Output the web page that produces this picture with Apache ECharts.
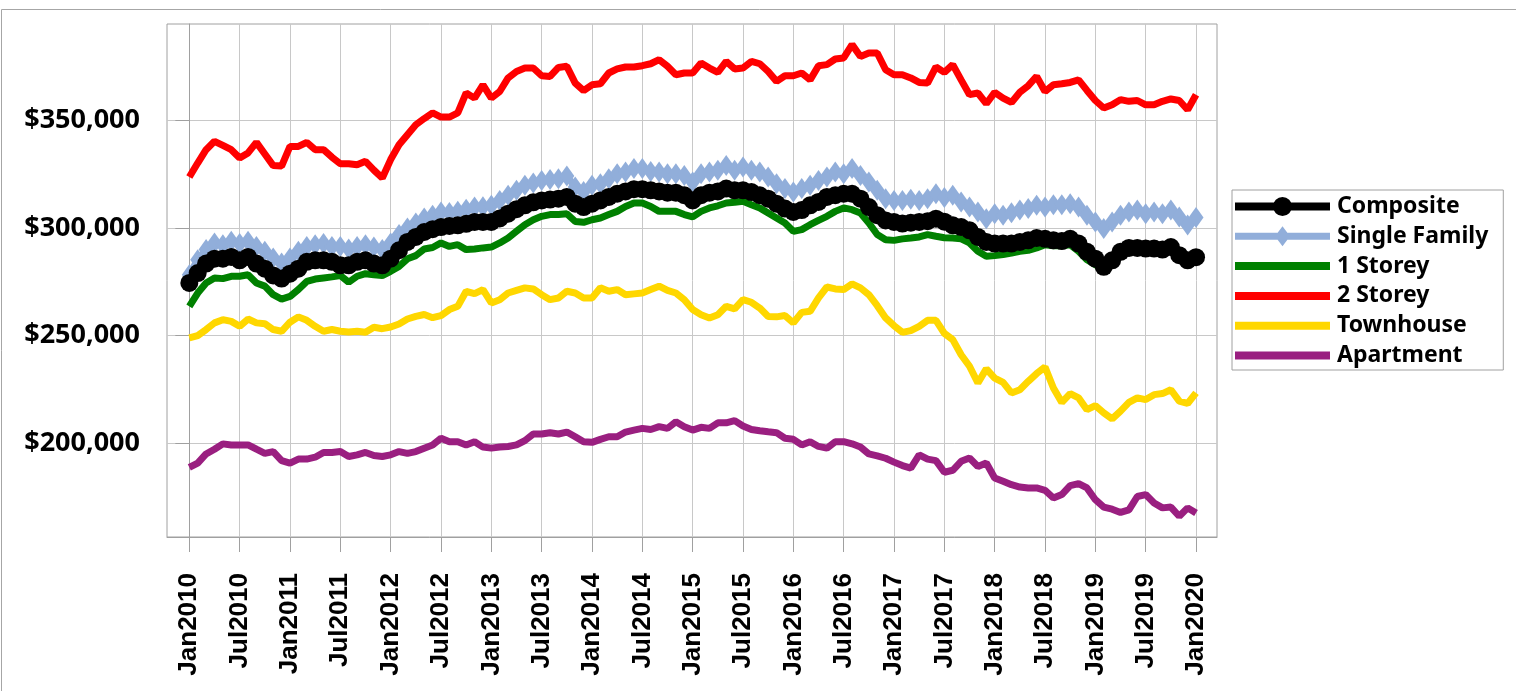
<!DOCTYPE html>
<html><head><meta charset="utf-8">
<script src="https://cdn.jsdelivr.net/npm/echarts@6/dist/echarts.min.js"></script>
<style>html,body{margin:0;padding:0;background:#fff}#c{width:1516px;height:691px}</style>
</head><body><div id="c"></div>
<script>
// X tick labels (every 6 months, Jan2010..Jan2020)
const tickLabels = ['Jan2010','Jul2010','Jan2011','Jul2011','Jan2012','Jul2012','Jan2013','Jul2013','Jan2014','Jul2014',
  'Jan2015','Jul2015','Jan2016','Jul2016','Jan2017','Jul2017','Jan2018','Jul2018','Jan2019','Jul2019','Jan2020'];
const yTicks = [200000, 250000, 300000, 350000];
const seriesNames = ['Composite','Single Family','1 Storey','2 Storey','Townhouse','Apartment'];

// Monthly values Jan2010 .. Jan2020 (one row per year)
const composite = [
  274500,279100,283500,285800,285800,286600,285000,286600,283500,281100,278000,276500,
  278800,281100,284300,285000,285000,284300,282700,282700,284300,285000,283500,282700,
  285800,289700,293600,295900,298200,299500,300500,301000,301300,302000,302900,302900,
  302900,304500,306700,308800,310600,312000,312900,313300,313700,314500,311400,309800,
  311400,312900,314500,316000,317100,318100,318100,317600,317100,316500,316500,315300,
  312900,315300,316500,317100,318400,317600,317600,316800,315300,313700,311400,309100,
  307500,308400,310600,312200,314500,315300,316000,316000,313700,309800,306000,303600,
  302900,302100,302500,302900,303200,304400,303000,301300,300500,299000,295900,293600,
  292800,292800,292800,293600,294300,295400,295000,294300,294000,295000,292800,289000,
  285800,282000,285000,289000,290800,290800,290500,290500,290000,291200,287400,285000,
  286500];
const singleFamily = [
  278300,285300,290000,293100,292300,293900,292800,293900,291500,289200,286100,283800,
  286100,289200,291500,292300,292800,291500,291500,290300,291500,292300,291200,290000,
  293100,297000,300100,302400,304700,306000,307500,307300,307800,308800,309800,310000,
  310600,312800,315300,317600,319900,321000,322200,322600,323000,324300,319100,317100,
  319900,320700,323000,325300,326100,327700,327700,326400,326100,325300,325300,324500,
  321500,325300,326100,326900,329200,326900,328400,326900,326100,323800,320700,318400,
  316800,318400,319900,322200,323800,326100,325300,327700,324500,321500,317600,313700,
  312900,312900,313400,312900,313700,316000,314200,315300,312200,309800,307500,304400,
  306700,306000,307200,308400,309100,310600,309800,310900,310900,311400,309800,306000,
  302900,299800,302900,306000,307500,308400,306700,307500,306700,308400,305200,301500,
  305000];
const oneStorey = [
  263600,269800,274500,276800,276500,277600,277600,278300,274500,273000,269000,267000,
  268200,271400,275200,276300,276800,277300,277900,274800,277600,278800,278300,277900,
  279900,282200,285700,287200,290300,291000,293100,291500,292300,290000,290300,290800,
  291200,293100,295400,298500,301600,303900,305500,306300,306300,306700,303100,302700,
  303900,304700,306300,307800,310100,311700,311700,310100,307800,307800,307800,306300,
  305200,307800,309400,310400,311700,312000,312500,310900,309400,307000,304700,302400,
  298500,299300,301600,303600,305500,307800,309400,308600,307000,302400,297000,294600,
  294300,295000,295400,295900,297000,296200,295500,295400,295000,293100,289200,286900,
  287200,287700,288400,289200,289700,290800,292300,291800,291800,292300,289200,285300,
  283000,280700,285300,289200,291500,291800,291500,291500,291500,291800,288700,286100,
  285700];
const twoStorey = [
  323800,330300,336500,340400,338500,336500,332600,335000,339900,334500,329100,328900,
  338000,338000,339900,336500,336500,333000,330000,330000,329500,331100,327000,323300,
  331900,338800,343500,348100,351000,353600,351700,351700,353600,362900,360500,366700,
  360500,363600,369900,372900,374500,374500,370900,370600,374800,375300,367500,364000,
  366700,367200,372200,374100,375000,375000,375600,376500,378400,375300,371400,372200,
  372200,376800,374500,372500,377600,374100,374500,377600,376500,372900,368300,370900,
  370900,372200,369000,375600,376100,378700,379200,385400,379900,381500,381500,373700,
  371400,371400,369900,367800,367500,375000,372500,376100,369000,362100,362900,357900,
  363200,360500,358500,363200,366300,370600,363600,366700,367200,367800,369000,364100,
  359400,355900,357400,359800,359000,359400,357400,357400,359000,360100,359400,355100,
  362100];
const townhouse = [
  248900,250000,252800,255900,257400,256600,254300,257700,255900,255500,252800,252000,
  256200,258700,257100,254300,252000,252800,252000,251700,252000,251500,253900,253200,
  254000,255400,257700,258900,259800,258300,259300,262100,263600,270600,269500,271400,
  265200,266700,269800,271000,272200,271700,269000,266700,267500,270600,269800,267500,
  267500,272200,270600,271400,269000,269400,269800,271400,273000,271000,269800,266700,
  262100,259700,258200,259700,263600,262400,266700,265500,262800,258900,258700,259300,
  255900,260800,261300,267500,272600,271700,271400,274100,272200,269000,263900,258200,
  254600,251500,252300,254300,257100,257100,251000,248100,241100,235700,227900,234500,
  230200,228200,223300,224800,228700,232300,235400,225600,218900,223000,221000,215500,
  217400,214000,211200,214800,218900,221000,220200,222500,223000,224800,219500,218400,
  223300];
const apartment = [
  188700,190600,194900,197100,199600,199100,199100,199100,197100,195200,196000,191800,
  190600,192500,192500,193400,195600,195600,196000,193700,194500,195600,194200,193700,
  194500,196000,195200,196000,197600,199100,202200,200600,200600,199100,200600,198100,
  197600,198100,198400,199100,201100,204200,204200,204800,204200,205100,202900,200600,
  200300,201700,202900,202900,205100,206000,206800,206300,207600,206800,209900,207600,
  206000,207300,206800,209400,209400,210400,207900,206300,205700,205200,204800,202200,
  201700,199100,200600,198400,197600,200600,200600,199600,198100,194900,194000,192900,
  191100,189500,188300,194500,192500,191800,186400,187300,191500,193000,189100,190700,
  183700,182200,180600,179500,179100,179100,178000,174400,176000,180200,181100,179100,
  173600,170200,169200,167700,168900,175100,176000,172100,169800,170200,165900,169800,
  167400];

const tickPos = tickLabels.map((_, i) => i * 6);
const toPts = arr => arr.map((v, i) => [i, v]);
const GRAY = '#a0a0a0';

// legend icons: thick line, with circle / diamond marker where the series has one
const ICON_LINE = 'path://M0,7 H95 V15 H0 Z';
const ICON_CIRCLE = 'path://M0,7 H95 V15 H0 Z M57,11 A9.5,9.5 0 1,1 38,11 A9.5,9.5 0 1,1 57,11 Z';
const ICON_DIAMOND = 'path://M0,7.5 H95 V14.5 H0 Z M47.5,1 L55,11 L47.5,21 L40,11 Z';
const legendIcons = [ICON_CIRCLE, ICON_DIAMOND, ICON_LINE, ICON_LINE, ICON_LINE, ICON_LINE];

const chart = echarts.init(document.getElementById('c'), null, {renderer: 'canvas'});
chart.setOption({
  animation: false,
  backgroundColor: '#fff',
  graphic: [{
    type: 'rect', silent: true, z: -10,
    shape: {x: 1.5, y: 9.5, width: 1530, height: 690},
    style: {fill: 'none', stroke: '#a6a6a6', lineWidth: 1}
  }],
  grid: {left: 167, top: 24, right: 299, bottom: 154, show: true, borderColor: GRAY, borderWidth: 1, backgroundColor: 'transparent'},
  xAxis: {
    type: 'value', min: -2.66, max: 122.5,
    axisLine: {show: true, lineStyle: {color: GRAY}},
    axisTick: {show: true, customValues: tickPos, length: 15, lineStyle: {color: GRAY}},
    axisLabel: {
      customValues: tickPos, formatter: v => tickLabels[Math.round(v / 6)],
      rotate: 90, margin: 36, fontSize: 26, fontWeight: 'bold', fontFamily: 'Liberation Sans', color: '#000'
    },
    splitLine: {show: true, lineStyle: {color: '#c8c8c8', width: 1}}
  },
  yAxis: {
    type: 'value', min: 156250, max: 395000,
    axisLine: {show: true, lineStyle: {color: GRAY}},
    axisTick: {show: true, customValues: yTicks, length: 14, lineStyle: {color: GRAY}},
    axisLabel: {
      customValues: yTicks, formatter: v => '$' + Math.round(v).toLocaleString('en-US'),
      margin: 27, fontSize: 27, fontWeight: 'bold', fontFamily: 'Noto Sans', color: '#000'
    },
    splitLine: {show: true, lineStyle: {color: '#c8c8c8', width: 1}}
  },
  legend: {
    orient: 'vertical', left: 1232, top: 190,
    data: seriesNames.map((n, i) => ({name: n, icon: legendIcons[i]})),
    itemWidth: 95, itemHeight: 22, itemGap: 6.8,
    padding: [5, 15, 3, 3],
    borderColor: GRAY, borderWidth: 1,
    textStyle: {fontSize: 23, fontWeight: 'bold', fontFamily: 'Noto Sans', color: '#000', padding: [0, 0, 0, 2]}
  },
  series: [
    {name: 'Single Family', type: 'line', data: toPts(singleFamily), color: '#91AEDA',
      symbol: 'diamond', symbolSize: [15, 21], showSymbol: true,
      lineStyle: {width: 7, color: '#91AEDA'}, itemStyle: {color: '#91AEDA'}},
    {name: 'Composite', type: 'line', data: toPts(composite), color: '#000',
      symbol: 'circle', symbolSize: 18, showSymbol: true,
      lineStyle: {width: 7, color: '#000'}, itemStyle: {color: '#000'}},
    {name: '1 Storey', type: 'line', data: toPts(oneStorey), color: '#008000', symbol: 'none',
      lineStyle: {width: 7, color: '#008000'}},
    {name: '2 Storey', type: 'line', data: toPts(twoStorey), color: '#FF0000', symbol: 'none',
      lineStyle: {width: 7, color: '#FF0000'}},
    {name: 'Townhouse', type: 'line', data: toPts(townhouse), color: '#FFD700', symbol: 'none',
      lineStyle: {width: 7, color: '#FFD700'}},
    {name: 'Apartment', type: 'line', data: toPts(apartment), color: '#9A1F80', symbol: 'none',
      lineStyle: {width: 7, color: '#9A1F80'}}
  ]
});
</script>
</body></html>
